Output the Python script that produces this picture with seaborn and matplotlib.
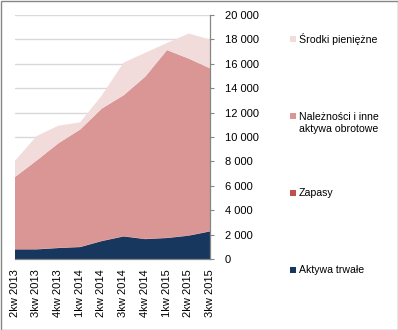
import matplotlib
matplotlib.use("Agg")
import matplotlib.pyplot as plt
from matplotlib.patches import Rectangle
import seaborn as sns
import numpy as np

# Quarterly balance-sheet structure (stacked assets)
quarters = ["2kw 2013", "3kw 2013", "4kw 2013", "1kw 2014", "2kw 2014",
            "3kw 2014", "4kw 2014", "1kw 2015", "2kw 2015", "3kw 2015"]
aktywa_trwale = [850, 850, 960, 1040, 1530, 1910, 1690, 1780, 1970, 2330]
zapasy = [20, 20, 20, 20, 20, 20, 20, 20, 20, 20]
naleznosci = [5900, 7250, 8550, 9590, 10820, 11520, 13270, 15350, 14460, 13290]
srodki = [1330, 2000, 1440, 590, 1080, 2670, 1950, 580, 2050, 2360]

series_labels = ["Aktywa trwałe", "Zapasy", "Należności i inne\naktywa obrotowe",
                 "Środki pieniężne"]
palette = sns.color_palette(["#17375E", "#C0504D", "#D99694", "#F2DCDB"])

sns.set_theme(style="white")
plt.rcParams["font.family"] = ["Liberation Sans", "DejaVu Sans"]

W, H = 398, 330
fig = plt.figure(figsize=(W / 100, H / 100), dpi=100)
x0, x1, y0, y1 = 14.5, 210, 259.3, 14.7
ax = fig.add_axes([x0 / W, 1 - y0 / H, (x1 - x0) / W, (y0 - y1) / H])

x = np.arange(len(quarters))
ax.stackplot(x, aktywa_trwale, zapasy, naleznosci, srodki,
             colors=palette, linewidth=0, zorder=2)

ax.set_xlim(0, len(quarters) - 1)
ax.set_ylim(0, 20000)
ax.set_yticks(np.arange(0, 20001, 2000))
ax.set_yticklabels([f"{v:,}".replace(",", " ") for v in range(0, 20001, 2000)])
ax.set_xticks(x)
ax.set_xticklabels(quarters, rotation=90, ha="center", va="top")

ax.set_axisbelow(True)
ax.grid(axis="y", color="#D9D9D9", linewidth=1.0)
ax.grid(axis="x", visible=False)

for side in ["left", "top"]:
    ax.spines[side].set_visible(False)
for side in ["right", "bottom"]:
    ax.spines[side].set_color("#868686")
    ax.spines[side].set_linewidth(0.9)

ax.yaxis.tick_right()
ax.tick_params(axis="both", direction="out", length=3, width=0.8,
               color="#868686", labelsize=8, labelcolor="#000000")
ax.tick_params(axis="y", pad=7.5)
ax.tick_params(axis="x", pad=4)
for lbl in ax.get_yticklabels():
    lbl.set_horizontalalignment("left")

# Legend on the right, one entry per band
legend_rows = [("Środki pieniężne", "#F2DCDB", 39, 39),
               ("Należności i inne\naktywa obrotowe", "#D99694", 116, 122.5),
               ("Zapasy", "#C0504D", 193, 193),
               ("Aktywa trwałe", "#17375E", 270, 270)]
for text, color, ysq, ytxt in legend_rows:
    fig.patches.append(Rectangle((290 / W, 1 - (ysq + 3) / H), 6 / W, 6 / H,
                                 transform=fig.transFigure, facecolor=color,
                                 edgecolor="none"))
    fig.text(299 / W, 1 - ytxt / H, text, fontsize=7.6, color="#000000",
             ha="left", va="center", linespacing=1.25)

# Outer chart frame
fig.patches.append(Rectangle((0.5 / W, 0.5 / H), (W - 1) / W, (H - 1) / H,
                             transform=fig.transFigure, fill=False,
                             edgecolor="#868686", linewidth=1.0))

fig.savefig("out.png", dpi=100)
